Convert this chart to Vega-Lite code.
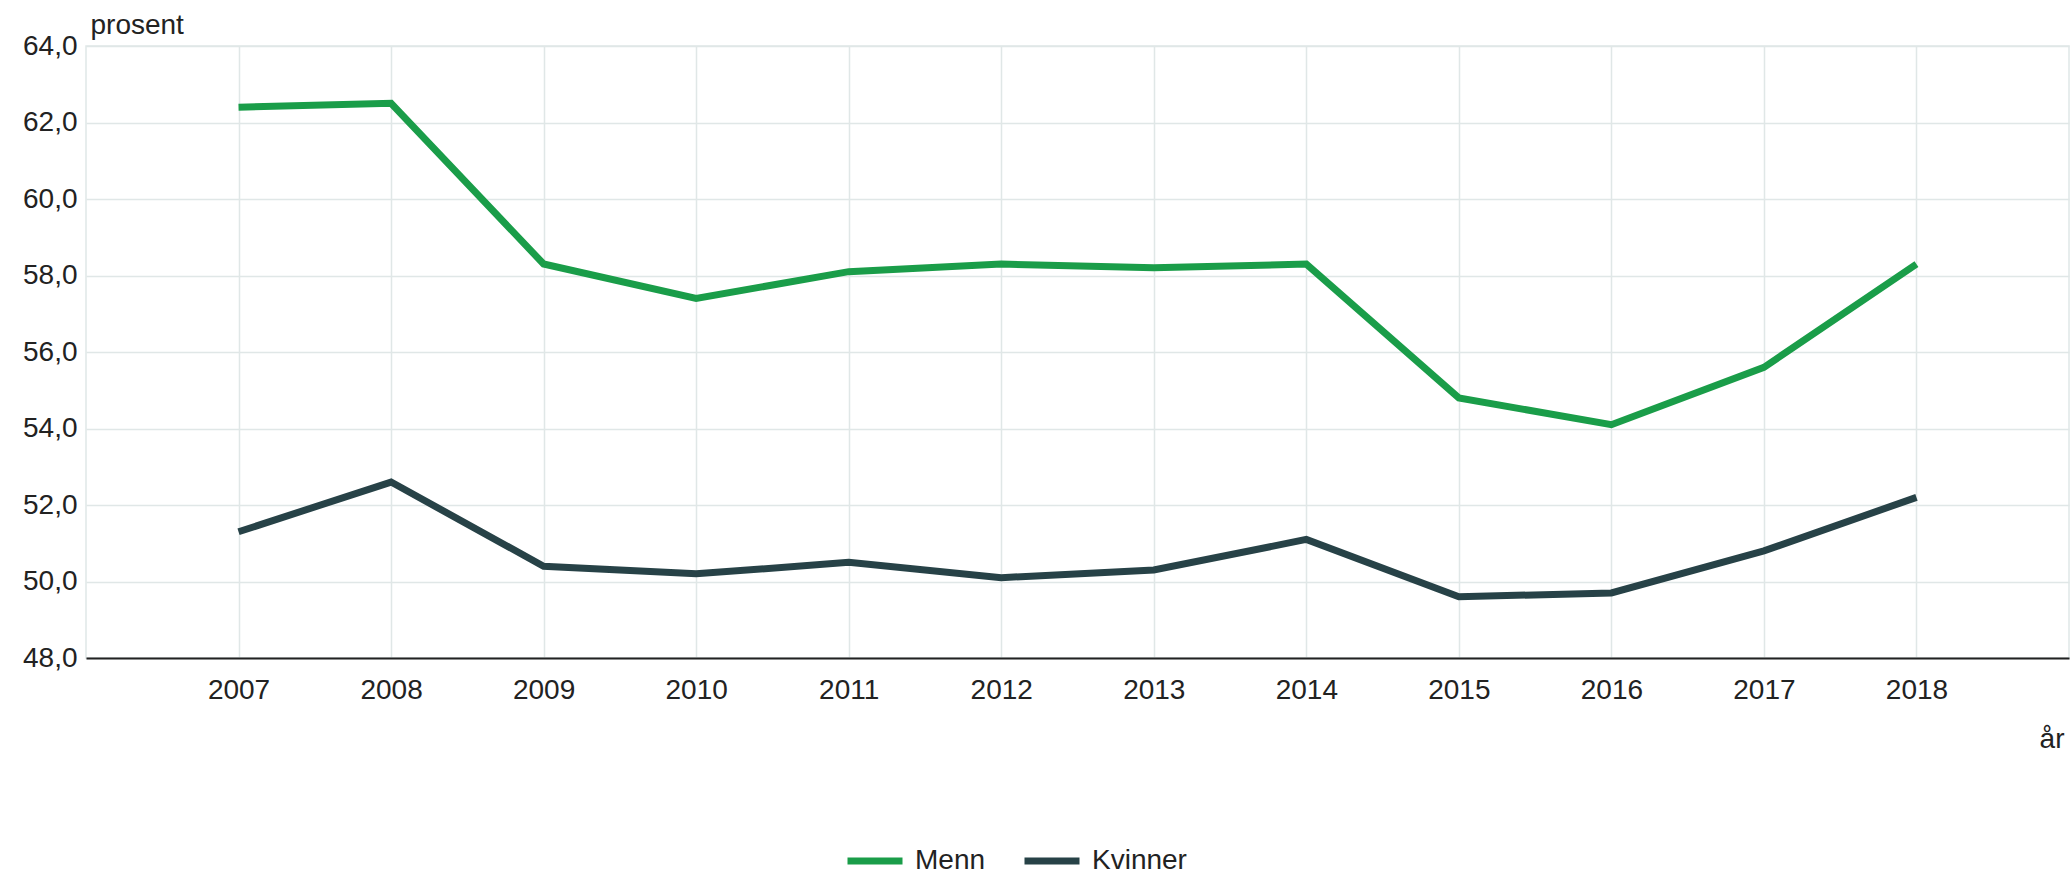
{
  "$schema": "https://vega.github.io/schema/vega-lite/v6.json",
  "width": 1983,
  "height": 612,
  "autosize": {"type": "none"},
  "padding": {"left": 86, "top": 46, "right": 2, "bottom": 221},
  "background": "white",
  "config": {
    "font": "Liberation Sans",
    "view": {"stroke": "#e0e7e7", "strokeWidth": 1.5},
    "axis": {"gridColor": "#e0e7e7", "gridWidth": 1.5, "labelFont": "Liberation Sans", "titleFont": "Liberation Sans", "labelColor": "#222222", "titleColor": "#222222", "labelFontSize": 28, "titleFontSize": 28, "titleFontWeight": "normal"}
  },
  "data": {
    "values": [
      {"year": 2007, "kjonn": "Menn", "verdi": 62.4},
      {"year": 2008, "kjonn": "Menn", "verdi": 62.5},
      {"year": 2009, "kjonn": "Menn", "verdi": 58.3},
      {"year": 2010, "kjonn": "Menn", "verdi": 57.4},
      {"year": 2011, "kjonn": "Menn", "verdi": 58.1},
      {"year": 2012, "kjonn": "Menn", "verdi": 58.3},
      {"year": 2013, "kjonn": "Menn", "verdi": 58.2},
      {"year": 2014, "kjonn": "Menn", "verdi": 58.3},
      {"year": 2015, "kjonn": "Menn", "verdi": 54.8},
      {"year": 2016, "kjonn": "Menn", "verdi": 54.1},
      {"year": 2017, "kjonn": "Menn", "verdi": 55.6},
      {"year": 2018, "kjonn": "Menn", "verdi": 58.3},
      {"year": 2007, "kjonn": "Kvinner", "verdi": 51.3},
      {"year": 2008, "kjonn": "Kvinner", "verdi": 52.6},
      {"year": 2009, "kjonn": "Kvinner", "verdi": 50.4},
      {"year": 2010, "kjonn": "Kvinner", "verdi": 50.2},
      {"year": 2011, "kjonn": "Kvinner", "verdi": 50.5},
      {"year": 2012, "kjonn": "Kvinner", "verdi": 50.1},
      {"year": 2013, "kjonn": "Kvinner", "verdi": 50.3},
      {"year": 2014, "kjonn": "Kvinner", "verdi": 51.1},
      {"year": 2015, "kjonn": "Kvinner", "verdi": 49.6},
      {"year": 2016, "kjonn": "Kvinner", "verdi": 49.7},
      {"year": 2017, "kjonn": "Kvinner", "verdi": 50.8},
      {"year": 2018, "kjonn": "Kvinner", "verdi": 52.2}
    ]
  },
  "mark": {"type": "line", "strokeWidth": 7, "strokeJoin": "miter", "strokeCap": "butt"},
  "encoding": {
    "x": {
      "field": "year", "type": "quantitative",
      "scale": {"domain": [2006, 2019], "nice": false, "zero": false},
      "axis": {
        "values": [2007, 2008, 2009, 2010, 2011, 2012, 2013, 2014, 2015, 2016, 2017, 2018],
        "format": "d",
        "ticks": false, "tickSize": 0,
        "labelPadding": 18,
        "domain": true, "domainColor": "#222222", "domainWidth": 2,
        "title": "år",
        "titleAnchor": "end", "titleAlign": "right", "titleBaseline": "alphabetic",
        "titleX": 1978, "titleY": 89
      }
    },
    "y": {
      "field": "verdi", "type": "quantitative",
      "scale": {"domain": [48, 64], "nice": false, "zero": false},
      "axis": {
        "values": [48, 50, 52, 54, 56, 58, 60, 62, 64],
        "labelExpr": "replace(format(datum.value, '.1f'), '.', ',')",
        "ticks": false, "tickSize": 0, "domain": false,
        "labelPadding": 9,
        "title": "prosent",
        "titleAngle": 0, "titleAlign": "left", "titleBaseline": "alphabetic",
        "titleX": 4, "titleY": -13
      }
    },
    "color": {
      "field": "kjonn", "type": "nominal",
      "scale": {"domain": ["Menn", "Kvinner"], "range": ["#1a9d49", "#274247"]},
      "legend": {
        "title": null,
        "orient": "none",
        "direction": "horizontal",
        "legendX": 758, "legendY": 784,
        "symbolType": "stroke",
        "symbolSize": 3025,
        "symbolStrokeWidth": 7,
        "labelFontSize": 28,
        "labelFont": "Liberation Sans",
        "labelColor": "#222222",
        "labelOffset": 9,
        "columnPadding": 24
      }
    }
  }
}
